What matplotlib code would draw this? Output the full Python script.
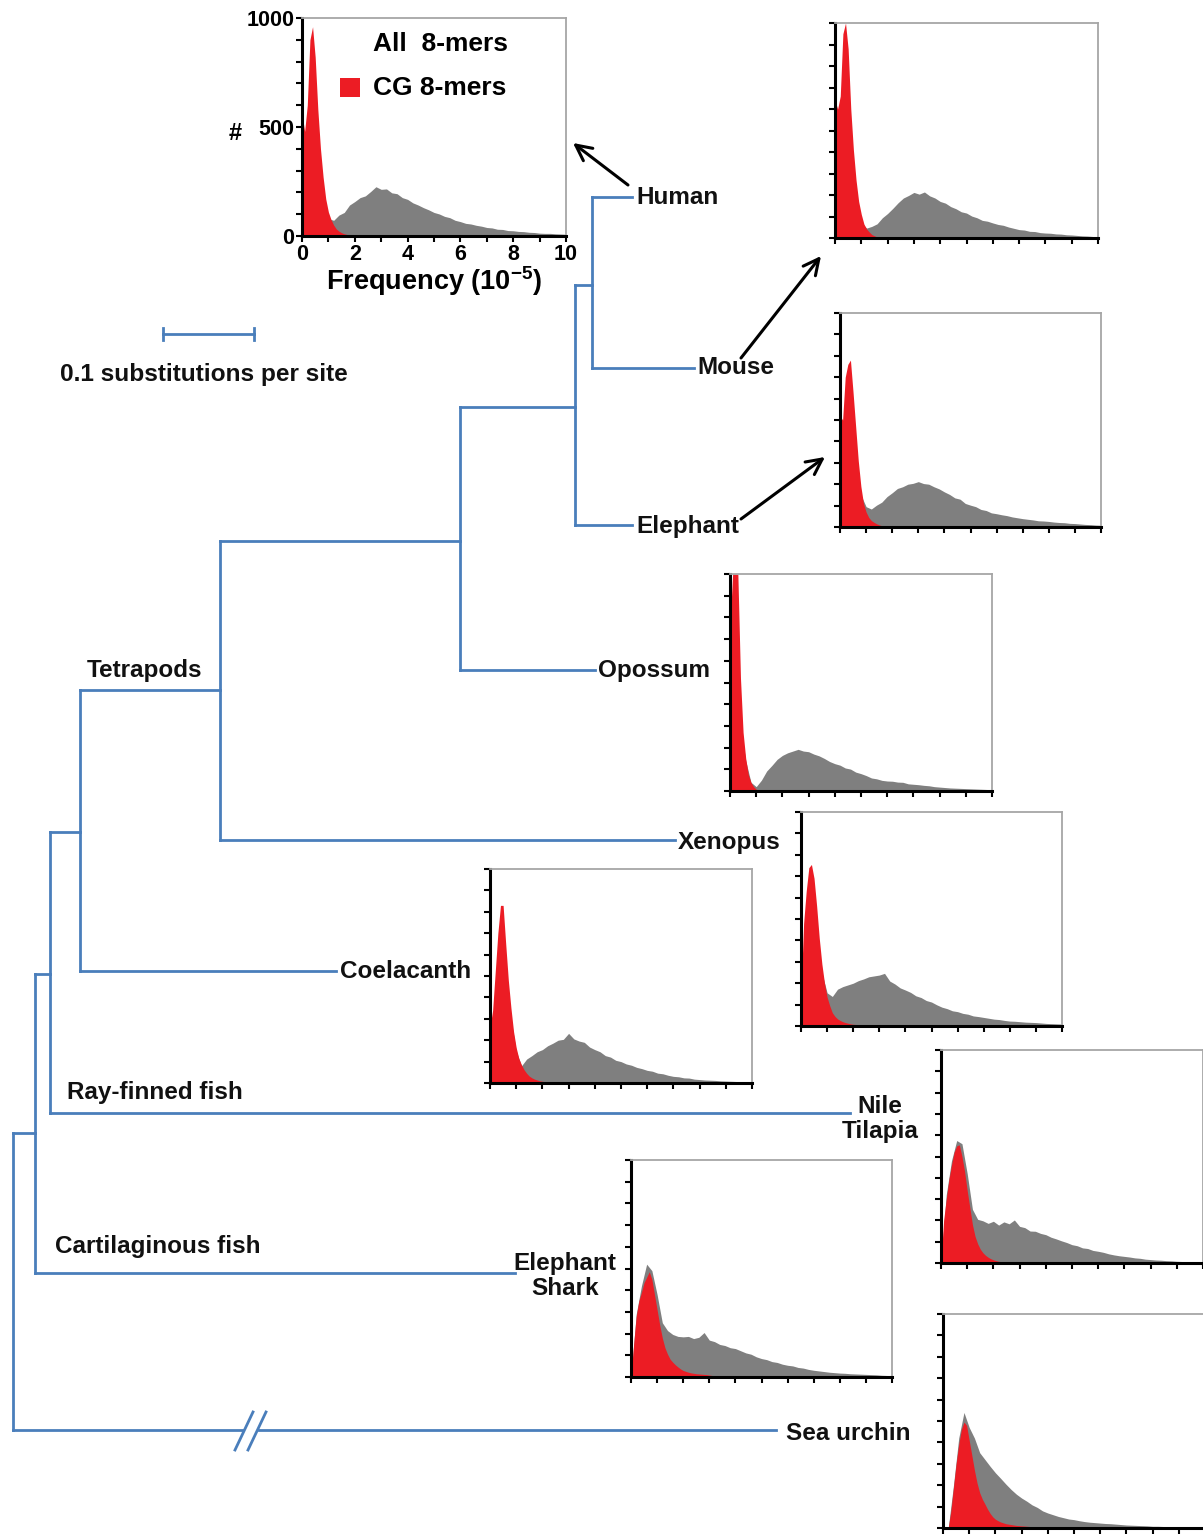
import numpy as np
import matplotlib.pyplot as plt

plt.rcParams['font.family'] = ['Liberation Sans', 'DejaVu Sans']
plt.rcParams['font.weight'] = 'bold'
plt.rcParams['mathtext.fontset'] = 'custom'
plt.rcParams['mathtext.rm'] = 'Liberation Sans:bold'
plt.rcParams['mathtext.it'] = 'Liberation Sans:bold'
plt.rcParams['mathtext.bf'] = 'Liberation Sans:bold'

W, H = 1203, 1534

# histogram counts
# all 8-mers on a 0.2 grid from 0 to 10, CG 8-mers on a 0.1 grid from 0
human_all = [0, 300, 400, 300, 150, 80, 72, 96, 108, 142, 158, 176, 184, 204, 226,
             214, 216, 198, 194, 176, 168, 152, 142, 130, 120, 108, 101, 90, 84, 72,
             66, 58, 55, 49, 45, 39, 37, 31, 30, 25, 24, 21, 20, 17, 16, 13, 12, 12, 10, 9, 8]
human_cg = [560, 480, 600, 900, 960, 820, 580, 400, 270, 170, 110, 75, 50, 32, 22, 15, 10, 7, 4, 2, 0]

mouse_all = [0, 300, 400, 300, 150, 70, 46, 54, 66, 94, 114, 138, 164, 186, 198,
             212, 204, 214, 196, 186, 170, 162, 146, 136, 122, 116, 102, 94, 82, 78,
             70, 63, 59, 51, 45, 39, 37, 31, 30, 25, 23, 22, 19, 18, 15, 14, 12, 10, 9, 7, 6]
mouse_cg = [640, 600, 660, 950, 1000, 880, 600, 410, 270, 170, 110, 65, 42, 28, 16, 10, 5, 2, 0]

elephant_all = [0, 300, 400, 300, 150, 95, 84, 102, 116, 142, 160, 180, 188, 200, 204,
                212, 203, 200, 188, 178, 164, 152, 136, 130, 110, 102, 95, 82, 77, 66,
                62, 57, 53, 47, 43, 39, 36, 33, 29, 28, 26, 23, 21, 20, 17, 16, 14, 12, 11, 9, 8]
elephant_cg = [520, 500, 700, 760, 780, 630, 470, 310, 190, 110, 70, 45, 30, 22, 15, 10, 6, 4, 2, 0]

opossum_all = [0, 300, 300, 140, 40, 20, 50, 92, 118, 146, 164, 176, 184, 192, 184,
               181, 170, 162, 150, 136, 126, 119, 106, 101, 87, 80, 71, 60, 56, 49,
               46, 45, 41, 40, 33, 31, 29, 26, 24, 20, 18, 16, 14, 13, 12, 11, 10, 9, 8, 7, 6]
opossum_cg = [760, 1000, 1000, 1000, 520, 270, 150, 75, 40, 20, 8, 3, 0]

xenopus_all = [0, 400, 500, 400, 250, 155, 138, 172, 184, 192, 200, 212, 220, 230, 234,
               238, 246, 210, 196, 178, 168, 157, 141, 133, 119, 112, 99, 88, 81, 71,
               67, 59, 55, 47, 44, 40, 36, 32, 30, 26, 23, 22, 20, 18, 17, 16, 14, 12, 11, 10, 9]
xenopus_cg = [150, 480, 630, 740, 755, 690, 560, 410, 290, 200, 135, 95, 62, 45, 33, 26,
              20, 16, 13, 10, 8, 7, 6, 5, 3, 0]

coelacanth_all = [0, 400, 600, 500, 300, 150, 80, 112, 128, 146, 156, 174, 186, 200, 204,
                  232, 206, 196, 190, 168, 156, 146, 128, 121, 106, 100, 89, 83, 73, 67,
                  59, 55, 46, 43, 36, 31, 29, 24, 23, 18, 16, 14, 13, 12, 10, 9, 8, 7, 6, 6, 5]
coelacanth_cg = [260, 340, 520, 700, 830, 830, 650, 480, 350, 240, 165, 115, 85, 62, 45, 32,
                 24, 18, 14, 10, 8, 6, 5, 4, 2, 0]

tilapia_all = [0, 320, 480, 575, 560, 420, 252, 205, 198, 186, 196, 178, 193, 184, 202,
               172, 166, 150, 149, 139, 133, 121, 113, 104, 96, 86, 81, 71, 68, 59,
               55, 50, 43, 38, 34, 31, 28, 24, 22, 18, 16, 14, 13, 11, 10, 8, 7, 6, 5, 4, 3]
tilapia_cg = [0, 200, 300, 390, 460, 520, 550, 555, 500, 430, 340, 260, 180, 125, 90, 65,
              48, 36, 27, 20, 15, 11, 8, 6, 4, 3, 2, 0]

shark_all = [0, 290, 420, 520, 490, 380, 250, 214, 196, 187, 185, 187, 177, 183, 205,
             170, 163, 150, 145, 135, 131, 121, 111, 105, 93, 85, 80, 71, 67, 59,
             54, 51, 44, 41, 35, 31, 28, 25, 22, 20, 18, 17, 15, 14, 13, 12, 11, 10, 8, 7, 6]
shark_cg = [0, 150, 280, 350, 390, 435, 460, 485, 450, 380, 310, 240, 180, 135, 105, 82,
            68, 56, 46, 37, 30, 26, 22, 19, 17, 15, 14, 13, 12, 11, 9, 7, 6, 4, 0]

urchin_all = [0, 0, 200, 420, 540, 470, 420, 352, 320, 288, 258, 232, 205, 180, 158,
              140, 125, 108, 96, 80, 70, 62, 54, 48, 42, 39, 34, 30, 27, 25,
              23, 21, 20, 18, 16, 14, 13, 12, 11, 10, 8, 8, 7, 7, 6, 6, 5, 5, 5, 4, 4]
urchin_cg = [0, 0, 0, 80, 190, 300, 390, 460, 495, 480, 410, 340, 270, 210, 165, 135, 112,
             88, 68, 52, 41, 34, 28, 24, 20, 18, 16, 14, 12, 11, 10, 9, 8, 7, 6, 5, 4, 3, 2, 1, 0]

x_ticks = list(range(0, 11))
x_tick_labels = ['0', '', '2', '', '4', '', '6', '', '8', '', '10']
y_ticks = list(range(0, 1001, 100))
y_tick_labels = ['0', '', '', '', '', '500', '', '', '', '', '1000']

# panel boxes in pixels: left, top, right, bottom
panels = [
    (human_all, human_cg, (302, 18, 566, 236)),
    (mouse_all, mouse_cg, (835, 23, 1098, 238)),
    (elephant_all, elephant_cg, (840, 313, 1101, 527)),
    (opossum_all, opossum_cg, (730, 574, 992, 791)),
    (xenopus_all, xenopus_cg, (801, 812, 1062, 1026)),
    (coelacanth_all, coelacanth_cg, (490, 869, 752, 1083)),
    (tilapia_all, tilapia_cg, (941, 1050, 1203, 1263)),
    (shark_all, shark_cg, (631, 1160, 892, 1377)),
    (urchin_all, urchin_cg, (943, 1314, 1205, 1528)),
]

# tree: tips (label, y, x of parent node, x where branch ends)
tip_names = ['Human', 'Mouse', 'Elephant', 'Opossum', 'Xenopus', 'Coelacanth',
             'Nile\nTilapia', 'Elephant\nShark', 'Sea urchin']
tip_y = [197, 368, 525, 670, 840, 971, 1113, 1273, 1430]
tip_parent_x = [592, 592, 575, 460, 220, 80, 50, 35, 13]
tip_end_x = [632, 694, 632, 595, 675, 336, 850, 515, 776]
tip_label_xy = [(636, 198), (697, 368), (636, 527), (598, 671), (678, 842), (340, 972),
                (880, 1119), (565, 1276), (786, 1433)]
tip_label_ha = ['left', 'left', 'left', 'left', 'left', 'left', 'center', 'center', 'left']

# internal nodes (x, parent x, y of stem, y top of children, y bottom of children)
nodes = [
    (592, 575, 285, 197, 368),
    (575, 460, 407, 285, 525),
    (460, 220, 541, 407, 670),
    (220, 80, 690, 541, 840),
    (80, 50, 832, 690, 971),
    (50, 35, 974, 832, 1113),
    (35, 13, 1133, 974, 1273),
    (13, None, None, 1133, 1430),
]

clade_labels = [('Tetrapods', 87, 671), ('Ray-finned fish', 67, 1093),
                ('Cartilaginous fish', 55, 1247)]

red = '#ec1c24'
gray = '#7f7f7f'
blue = '#4a7ebb'

fig = plt.figure(figsize=(W / 100, H / 100), dpi=100)

for i, (all_counts, cg_counts, box) in enumerate(panels):
    l, t, r, b = box
    hx = fig.add_axes([l / W, 1 - b / H, (r - l) / W, (b - t) / H])
    xa = np.arange(len(all_counts)) * 0.2
    xc = np.arange(len(cg_counts)) * 0.1
    hx.fill_between(xa, 0, all_counts, color=gray, lw=0)
    hx.fill_between(xc, 0, cg_counts, color=red, lw=0)
    hx.set_xlim(0, 10)
    hx.set_ylim(0, 1000)
    hx.set_xticks(x_ticks)
    hx.set_yticks(y_ticks)
    if i == 0:
        hx.set_xticklabels(x_tick_labels, fontsize=15.5, fontweight='bold')
        hx.set_yticklabels(y_tick_labels, fontsize=15.5, fontweight='bold')
        hx.set_xlabel(r'Frequency (10$^{-5}$)', fontsize=19.5, fontweight='bold', labelpad=0)
    else:
        hx.set_xticklabels([])
        hx.set_yticklabels([])
    hx.tick_params(axis='both', direction='out', length=4.5, width=1.5, pad=1)
    for side in ['left', 'bottom']:
        hx.spines[side].set_linewidth(2.2)
        hx.spines[side].set_color('black')
    for side in ['top', 'right']:
        hx.spines[side].set_linewidth(1.3)
        hx.spines[side].set_color('#a6a6a6')

# overlay for the tree, labels and arrows
ax = fig.add_axes([0, 0, 1, 1])
ax.set_xlim(0, W)
ax.set_ylim(H, 0)
ax.axis('off')
ax.patch.set_alpha(0)

lw_tree = 2.0
for name, y, px, ex in zip(tip_names, tip_y, tip_parent_x, tip_end_x):
    if name == 'Sea urchin':
        ax.plot([px, 243], [y, y], color=blue, lw=lw_tree)
        ax.plot([259, ex], [y, y], color=blue, lw=lw_tree)
    else:
        ax.plot([px, ex], [y, y], color=blue, lw=lw_tree)

for x, parent_x, y, y_top, y_bot in nodes:
    ax.plot([x, x], [y_top, y_bot], color=blue, lw=lw_tree)
    if parent_x is not None:
        ax.plot([parent_x, x], [y, y], color=blue, lw=lw_tree)

# break marks on the sea urchin branch
ax.plot([235, 253], [1450, 1412], color=blue, lw=lw_tree)
ax.plot([248, 266], [1450, 1412], color=blue, lw=lw_tree)

# scale bar
ax.plot([163, 254], [334, 334], color=blue, lw=lw_tree)
ax.plot([163, 163], [328, 340], color=blue, lw=lw_tree)
ax.plot([254, 254], [328, 340], color=blue, lw=lw_tree)
ax.text(60, 374, '0.1 substitutions per site', fontsize=17.6, fontweight='bold',
        ha='left', va='center', color='#111111')

for name, (lx, ly), ha in zip(tip_names, tip_label_xy, tip_label_ha):
    ax.text(lx, ly, name, fontsize=17.5, fontweight='bold', ha=ha, va='center',
            color='#111111', linespacing=1.1)

for name, lx, ly in clade_labels:
    ax.text(lx, ly, name, fontsize=17.5, fontweight='bold', ha='left', va='center',
            color='#111111')

# legend of first panel
ax.text(373, 44, 'All  8-mers', fontsize=19, fontweight='bold', ha='left', va='center')
ax.add_patch(plt.Rectangle((340, 78), 20, 19, color=red, lw=0))
ax.text(373, 88, 'CG 8-mers', fontsize=19, fontweight='bold', ha='left', va='center')
ax.text(235, 133, '#', fontsize=17, fontweight='bold', ha='center', va='center')

arrows = [((628, 185), (573, 143)), ((741, 358), (821, 256)), ((741, 519), (825, 457))]
for tail, head in arrows:
    ax.annotate('', xy=head, xytext=tail,
                arrowprops=dict(arrowstyle='->', lw=2.2, color='black',
                                mutation_scale=28, shrinkA=0, shrinkB=0))

fig.savefig('out.png', dpi=100)
